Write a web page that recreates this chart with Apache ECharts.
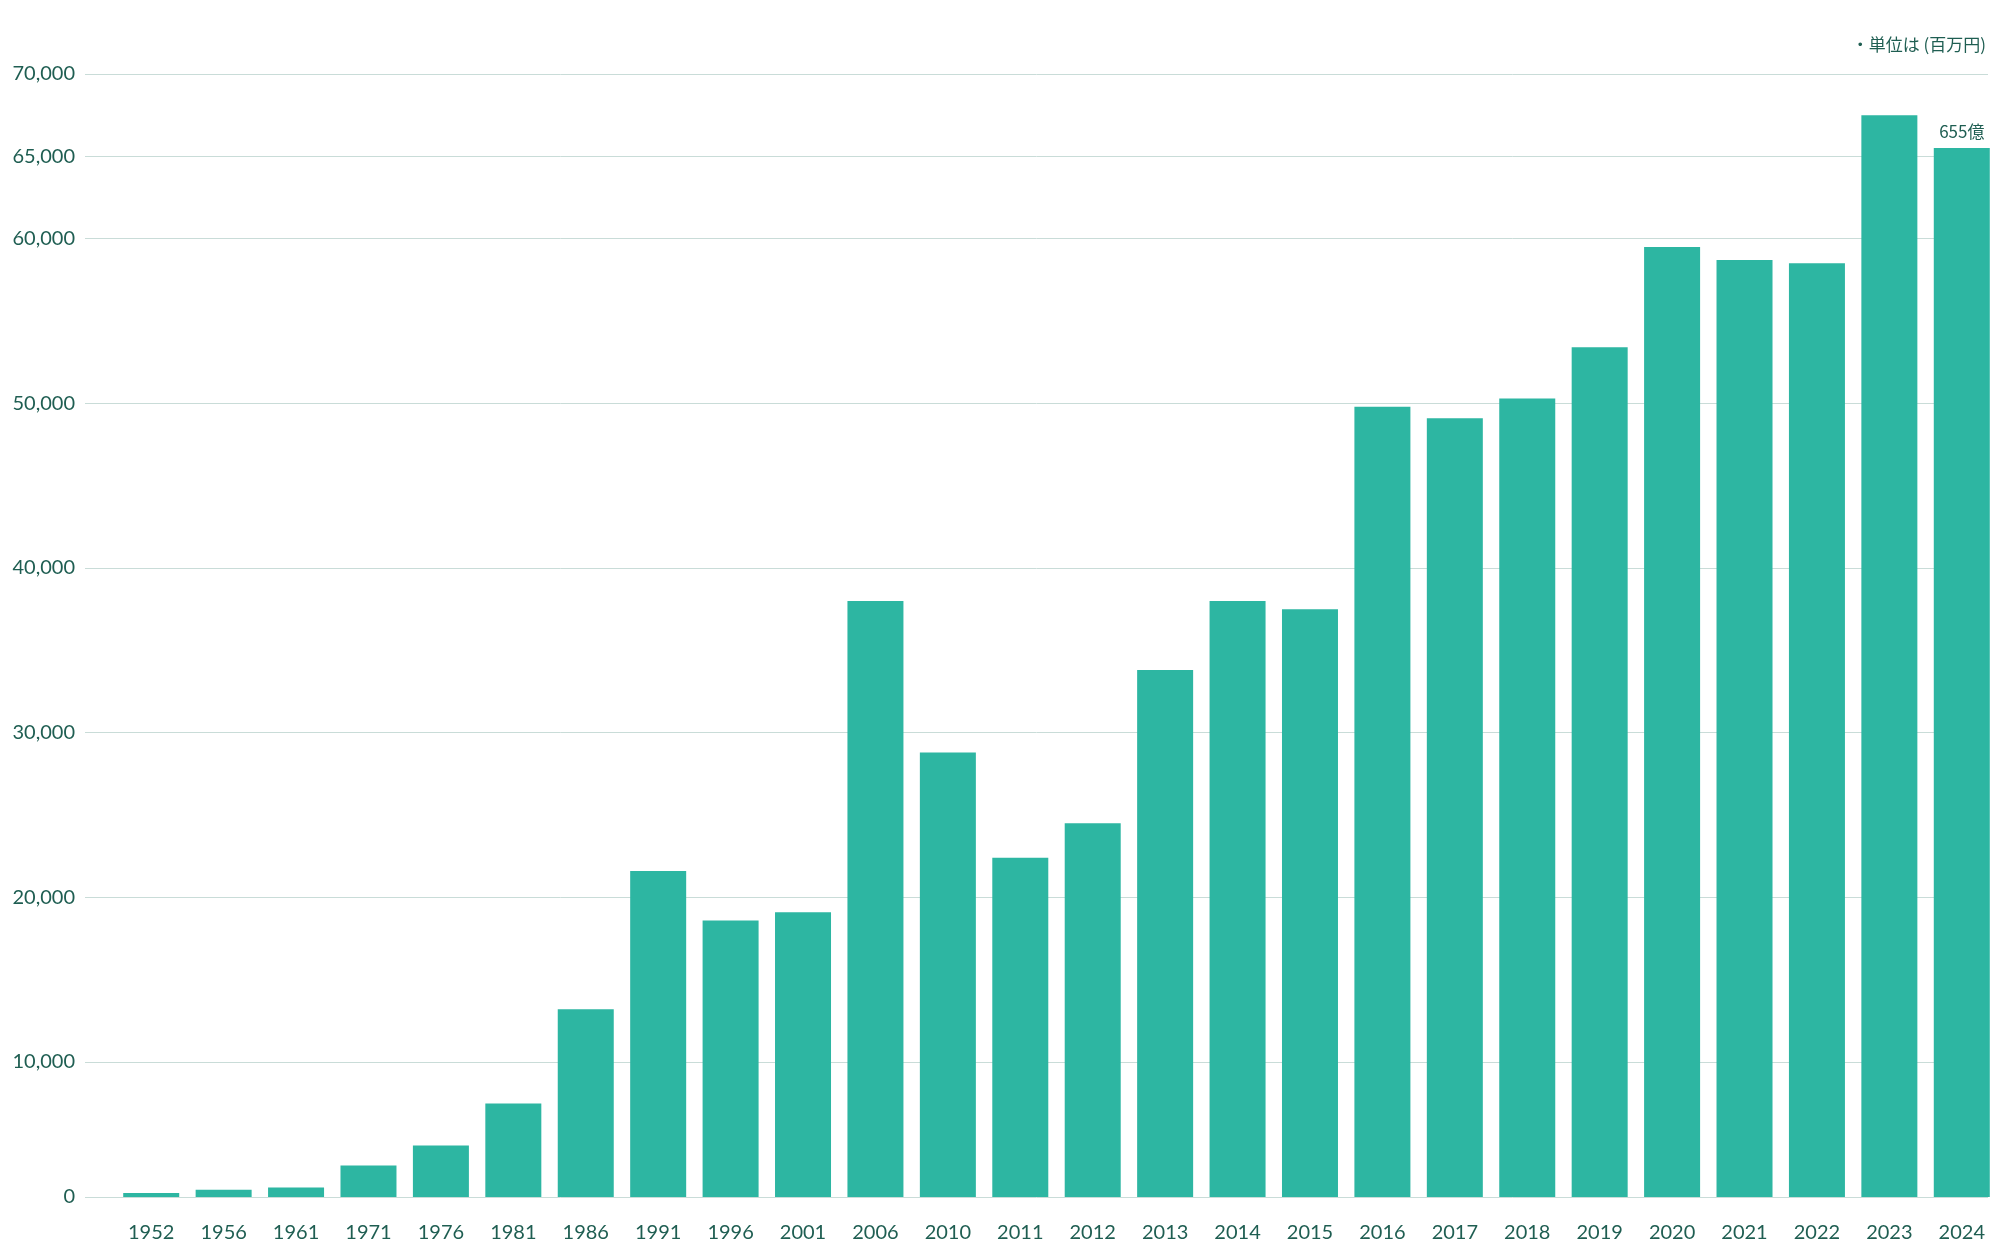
<!DOCTYPE html>
<html>
<head>
<meta charset="utf-8">
<script src="https://cdn.jsdelivr.net/npm/echarts@6/dist/echarts.min.js"></script>
<style>
html,body{margin:0;padding:0;background:#fff;}
#chart{width:2000px;height:1254px;}
</style>
</head>
<body>
<div id="chart"></div>
<script>
// ---- data ----
const years = ['1952','1956','1961','1971','1976','1981','1986','1991','1996','2001','2006','2010','2011','2012','2013','2014','2015','2016','2017','2018','2019','2020','2021','2022','2023','2024'];
const sales = [300, 540, 710, 2340, 3820, 6930, 13200, 21600, 18600, 19100, 38000, 28800, 22400, 24500, 33800, 38000, 37500, 49800, 49100, 50300, 53400, 59500, 58700, 58500, 67500, 65500];
const barNotes = ['', '', '', '', '', '', '', '', '', '', '', '', '', '', '', '', '', '', '', '', '', '', '', '', '', '655億'];
const upperTicks = [10000, 20000, 30000, 40000, 50000, 60000, 65000, 70000];
const lowerTicks = [0];
const unitNote = '・単位は (百万円)';

// ---- styles ----
const barColor = '#2db6a2';
const textColor = '#1f5e52';
const gridColor = '#c9dcd8';
const font = 'Lato, "Noto Sans", sans-serif';
const cjkFont = '"Noto Sans CJK JP", "Noto Sans", sans-serif';

const chart = echarts.init(document.getElementById('chart'), null, {renderer: 'canvas'});

const fmt = v => Number(v).toLocaleString('en-US');

const upperData = sales.map((v, i) => ({
  value: v,
  label: barNotes[i] ? {show: true, position: 'top', distance: 8, formatter: barNotes[i],
    color: textColor, fontSize: 17, fontFamily: cjkFont} : {show: false}
}));

const option = {
  backgroundColor: '#ffffff',
  animation: false,
  title: {
    text: unitNote, right: 9, top: 31,
    textStyle: {fontSize: 17, fontWeight: 'normal', color: textColor, fontFamily: cjkFont}
  },
  grid: [
    {left: 115, right: 2, top: 74, height: 988},   // upper bars (10k-70k)
    {left: 115, right: 2, top: 1062, height: 135}, // lower bars (0-10k)
    {left: 85, right: 12, top: 74, height: 988},   // upper frame
    {left: 85, right: 12, top: 1062, height: 135}  // lower frame
  ],
  xAxis: [
    {type: 'category', gridIndex: 0, data: years, show: false},
    {type: 'category', gridIndex: 1, data: years,
      axisLine: {show: false}, axisTick: {show: false},
      axisLabel: {color: textColor, fontSize: 20, fontFamily: font, margin: 26}},
    {type: 'value', gridIndex: 2, min: 0, max: 1, show: false},
    {type: 'value', gridIndex: 3, min: 0, max: 1, show: false}
  ],
  yAxis: [
    {type: 'value', gridIndex: 0, min: 10000, max: 70000, show: false},
    {type: 'value', gridIndex: 1, min: 0, max: 10000, show: false},
    {type: 'value', gridIndex: 2, min: 10000, max: 70000,
      axisLine: {show: false},
      axisTick: {show: false, customValues: upperTicks},
      axisLabel: {customValues: upperTicks, formatter: fmt, color: textColor, fontSize: 20, fontFamily: font, margin: 10},
      splitLine: {show: true, lineStyle: {color: gridColor, width: 1}}},
    {type: 'value', gridIndex: 3, min: 0, max: 10000,
      axisLine: {show: false},
      axisTick: {show: false, customValues: lowerTicks},
      axisLabel: {customValues: lowerTicks, formatter: fmt, color: textColor, fontSize: 20, fontFamily: font, margin: 10},
      splitLine: {show: true, lineStyle: {color: gridColor, width: 1}}}
  ],
  series: [
    {type: 'bar', xAxisIndex: 0, yAxisIndex: 0, data: upperData, barWidth: 56, clip: true,
      itemStyle: {color: barColor}},
    {type: 'bar', xAxisIndex: 1, yAxisIndex: 1, data: sales, barWidth: 56, clip: true,
      itemStyle: {color: barColor}}
  ]
};
chart.setOption(option);
</script>
</body>
</html>
